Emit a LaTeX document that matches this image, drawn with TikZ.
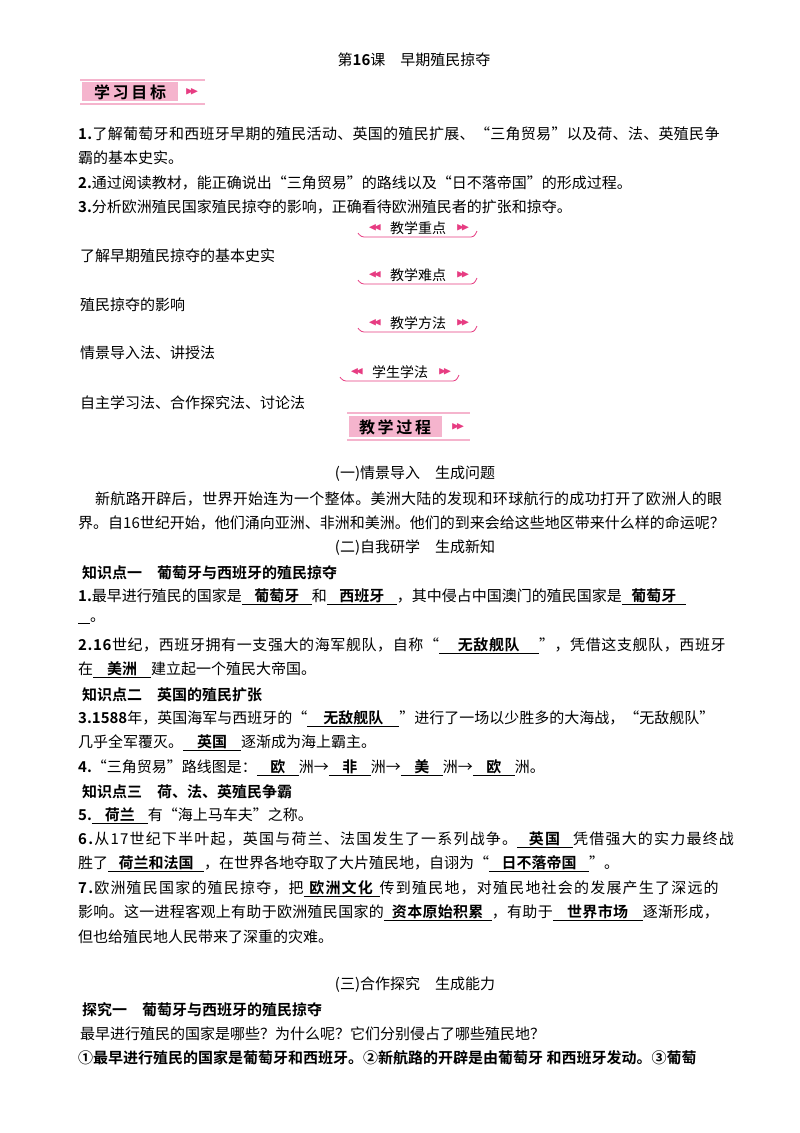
\documentclass[tikz,border=0pt]{standalone}
\usepackage{amssymb}
\usepackage{fontspec}
\setmainfont{Noto Sans CJK SC}[BoldFont={* Bold}]
\definecolor{pk}{RGB}{231,60,130}
\definecolor{pkl}{RGB}{245,180,205}
\newcommand\ans[2]{\underline{\makebox[#1]{\textbf{#2}}}}
\newcommand\full[2][4]{{\addfontfeature{LetterSpace=#1}#2}}
\begin{document}
\begin{tikzpicture}[x=1pt,y=-1pt,
  t/.style={anchor=west,inner sep=0pt,font=\fontsize{15}{18}\selectfont},
  c/.style={inner sep=0pt,font=\fontsize{15}{18}\selectfont},
  h/.style={t,font=\fontsize{15}{18}\selectfont\bfseries},
  chev/.style={inner sep=0pt,text=pk,font=\fontsize{11}{12}\selectfont}]
\useasboundingbox (0,0) rectangle (800,1133);
\fill[white] (0,0) rectangle (800,1133);
\node[c] (title) at (414,60) {第\textbf{16}课\quad 早期殖民掠夺};
% banner 1
\fill[pkl] (82,82) rectangle (178,101);
\draw[pkl,line width=1.2pt] (80,80)--(205,80) (80,104)--(205,104);
\node[inner sep=0pt,font=\fontsize{16}{18}\selectfont\bfseries] (b1) at (130,92) {学\,习\,目\,标};
\node[chev] (b1a) at (192,92) {$\blacktriangleright\!\!\blacktriangleright$};
\node[t] (l1) at (78,134) {\full[2]{\textbf{1.}了解葡萄牙和西班牙早期的殖民活动、英国的殖民扩展、“三角贸易”以及荷、法、英殖民争}};
\node[t] (l2) at (78,158) {霸的基本史实。};
\node[t] (l3) at (78,183) {\textbf{2.}通过阅读教材，能正确说出“三角贸易”的路线以及“日不落帝国”的形成过程。};
\node[t] (l4) at (78,207) {\textbf{3.}分析欧洲殖民国家殖民掠夺的影响，正确看待欧洲殖民者的扩张和掠夺。};
% badges
\foreach \n/\x/\y/\s in {k1/418/228/教学重点,k2/418/275/教学难点,k3/418/323/教学方法,k4/400/372/学生学法}{
  \node[inner sep=0pt,font=\fontsize{14}{15}\selectfont] (\n) at (\x,\y) {\s};
  \draw[pk,line width=0.8pt,rounded corners=3pt] (\x-60,\y+5) -- (\x-57,\y+9) -- (\x+56,\y+9) -- (\x+59,\y+3);
  \node[chev] at (\x-43,\y) {$\blacktriangleleft\!\!\blacktriangleleft$};
  \node[chev] at (\x+45,\y) {$\blacktriangleright\!\!\blacktriangleright$};
}
\node[t] (m1) at (80,256) {了解早期殖民掠夺的基本史实};
\node[t] (m2) at (80,305) {殖民掠夺的影响};
\node[t] (m3) at (80,353) {情景导入法、讲授法};
\node[t] (m4) at (80,403) {自主学习法、合作探究法、讨论法};
% banner 2
\fill[pkl] (349,416) rectangle (442,437);
\draw[pkl,line width=1.2pt] (347,413)--(470,413) (347,440)--(470,440);
\node[inner sep=0pt,font=\fontsize{16}{18}\selectfont\bfseries] (b2) at (395,427) {教\,学\,过\,程};
\node[chev] (b2a) at (458,427) {$\blacktriangleright\!\!\blacktriangleright$};
\node[c] (s1) at (415,474) {(一)情景导入\quad 生成问题};
\node[t] (p1) at (95,499) {\full[2]{新航路开辟后，世界开始连为一个整体。美洲大陆的发现和环球航行的成功打开了欧洲人的眼}};
\node[t] (p2) at (78,523) {界。自16世纪开始，他们涌向亚洲、非洲和美洲。他们的到来会给这些地区带来什么样的命运呢？};
\node[c] (s2) at (415,548) {(二)自我研学\quad 生成新知};
\node[h] (k1t) at (82,573) {知识点一\quad 葡萄牙与西班牙的殖民掠夺};
\node[t] (q1) at (78,597) {\textbf{1.}最早进行殖民的国家是\ans{70pt}{葡萄牙}和\ans{70pt}{西班牙}，其中侵占中国澳门的殖民国家是\ans{64pt}{葡萄牙}};
\node[t] (q1b) at (78,621) {\underline{\makebox[12pt]{}}。};
\node[t] (q2) at (78,646) {\full[4]{\textbf{2.16}世纪，西班牙拥有一支强大的海军舰队，自称“\ans{100pt}{无敌舰队}”，凭借这支舰队，西班牙}};
\node[t] (q2b) at (78,670) {在\ans{58pt}{美洲}建立起一个殖民大帝国。};
\node[h] (k2t) at (82,695) {知识点二\quad 英国的殖民扩张};
\node[t] (q3) at (78,719) {\textbf{3.1588}年，英国海军与西班牙的“\ans{92pt}{无敌舰队}”进行了一场以少胜多的大海战，“无敌舰队”};
\node[t] (q3b) at (78,743) {几乎全军覆灭。\ans{58pt}{英国}逐渐成为海上霸主。};
\node[t] (q4) at (78,768) {\textbf{4.}“三角贸易”路线图是：\ans{42pt}{欧}洲→\ans{42pt}{非}洲→\ans{42pt}{美}洲→\ans{42pt}{欧}洲。};
\node[h] (k3t) at (82,792) {知识点三\quad 荷、法、英殖民争霸};
\node[t] (q5) at (78,816) {\textbf{5.}\ans{56pt}{荷兰}有“海上马车夫”之称。};
\node[t] (q6) at (78,840) {\full[8]{\textbf{6.}从17世纪下半叶起，英国与荷兰、法国发生了一系列战争。\ans{56pt}{英国}凭借强大的实力最终战}};
\node[t] (q6b) at (78,864) {胜了\ans{96pt}{荷兰和法国}，在世界各地夺取了大片殖民地，自诩为“\ans{100pt}{日不落帝国}”。};
\node[t] (q7) at (78,889) {\full[8]{\textbf{7.}欧洲殖民国家的殖民掠夺，把\ans{76pt}{欧洲文化}传到殖民地，对殖民地社会的发展产生了深远的}};
\node[t] (q7b) at (78,913) {\full[2]{影响。这一进程客观上有助于欧洲殖民国家的\ans{108pt}{资本原始积累}，有助于\ans{90pt}{世界市场}逐渐形成，}};
\node[t] (q7c) at (78,937) {但也给殖民地人民带来了深重的灾难。};
\node[c] (s3) at (415,985) {(三)合作探究\quad 生成能力};
\node[h] (e1) at (82,1010) {探究一\quad 葡萄牙与西班牙的殖民掠夺};
\node[t] (e2) at (80,1034) {最早进行殖民的国家是哪些？为什么呢？它们分别侵占了哪些殖民地？};
\node[h] (e3) at (78,1058) {①最早进行殖民的国家是葡萄牙和西班牙。②新航路的开辟是由葡萄牙 和西班牙发动。③葡萄};
\end{tikzpicture}
\end{document}
